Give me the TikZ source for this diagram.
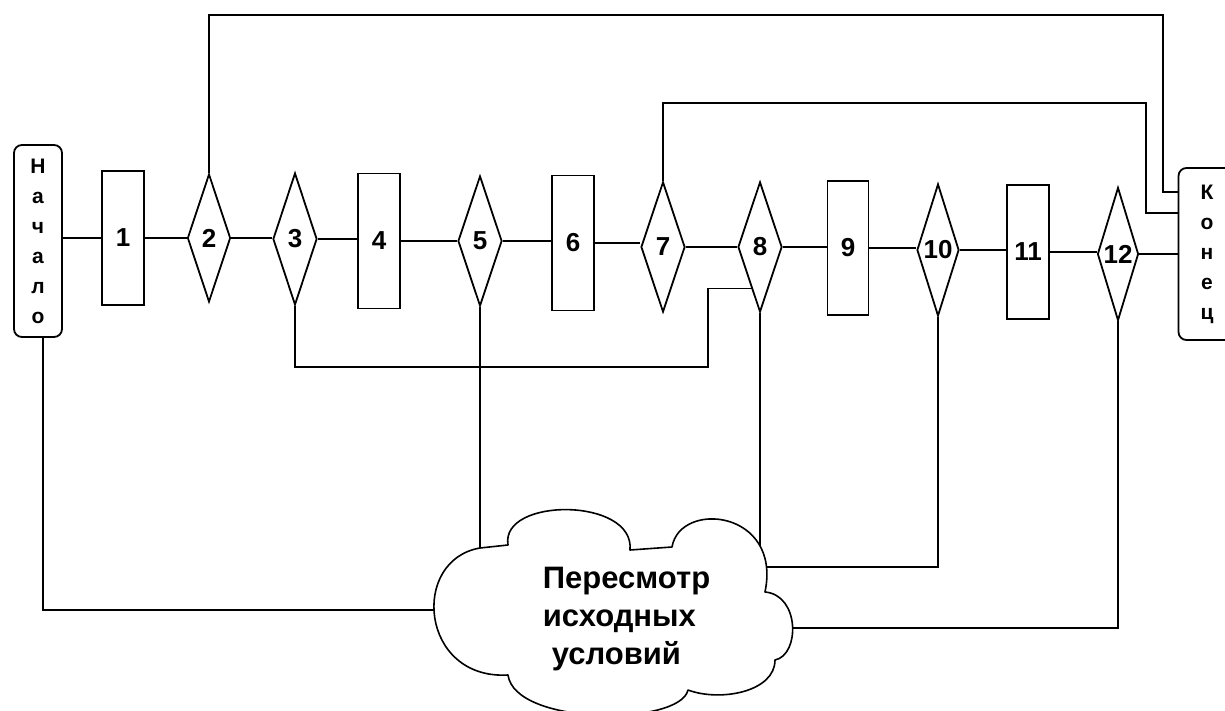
\documentclass[tikz,border=0pt]{standalone}
\usepackage{fontspec}
\setmainfont{Liberation Sans}
\usetikzlibrary{shapes.geometric,calc}
\begin{document}
\begin{tikzpicture}[x=1pt,y=-1pt,line width=1.8pt,line join=miter,
  blk/.style={draw,rectangle,inner sep=0pt,minimum width=42pt,
    font=\bfseries\fontsize{26}{30}\selectfont},
  dec/.style={draw,diamond,aspect=0.33,inner sep=0pt,minimum width=43pt,
    minimum height=130pt,font=\bfseries\fontsize{26}{30}\selectfont},
  term/.style={draw,rectangle,rounded corners=8pt,inner sep=0pt,align=center,
    font=\bfseries\fontsize{21}{30}\selectfont},
  wire/.style={draw,line width=1.8pt},
  cloudline/.style={draw,fill=white,line width=1.6pt,line join=round}]
\path[use as bounding box,clip] (0,0) rectangle (1225,711);

% terminals
\node[term,minimum width=48pt,minimum height=192pt] (N) at (38,241) {Н\\а\\ч\\а\\л\\о};
\node[term,minimum width=57pt,minimum height=172pt] (K) at (1207,254) {К\\о\\н\\е\\ц};

% process blocks and decisions
\node[blk,minimum height=134pt] (B1) at (123,238) {1};
\node[dec,minimum height=128pt] (D2) at (209,238) {2};
\node[dec,minimum width=44pt,minimum height=132pt] (D3) at (295,239) {3};
\node[blk,minimum height=135pt] (B4) at (379,241) {4};
\node[dec,minimum width=44pt] (D5) at (480,241) {5};
\node[blk,minimum height=135pt] (B6) at (573,243) {6};
\node[dec,minimum width=44pt] (D7) at (663,247) {7};
\node[dec,minimum width=44pt] (D8) at (760,247) {8};
\node[blk,minimum width=41pt,minimum height=134pt] (B9) at (848,248) {9};
\node[dec,minimum width=42pt,minimum height=132pt] (D10) at (938,250) {10};
\node[blk,minimum height=134pt] (B11) at (1028,252) {11};
\node[dec,minimum width=41pt,minimum height=133pt] (D12) at (1118,254) {12};

% main chain
\draw[wire] (N.east |- B1) -- (B1.west);
\foreach \a/\b in {B1/D2,D2/D3,D3/B4,B4/D5,D5/B6,B6/D7,D7/D8,D8/B9,B9/D10,D10/B11,B11/D12,D12/K}
  \draw[wire] (\a.east) -- (\a.east -| \b.west);

% return routes over the top
\coordinate (t2) at (1163,15);
\coordinate (t7) at (1146,103);
\coordinate (k2) at ($(K.north west)+(0,25)$);
\coordinate (k7) at ($(K.north west)+(0,46)$);
\draw[wire] (D2.north) |- (t2) |- (k2);
\draw[wire] (D7.north) |- (t7) |- (k7);

% loop from 3 back into 8
\coordinate (b3) at (708,367);
\coordinate (j8) at ($(D8.west)!0.63!(D8.south)$);
\draw[wire] (D3.south) |- (b3) |- (j8);

% routes down to the revision cloud
\coordinate (cN) at (445,610);
\coordinate (c5) at (480,560);
\coordinate (c8) at (760,560);
\coordinate (c10) at (755,567);
\coordinate (c12) at (780,628);
\draw[wire] ([xshift=5pt]N.south) |- (cN);
\draw[wire] (D5.south) -- (c5);
\draw[wire] (D8.south) -- (c8);
\draw[wire] (D10.south) |- (c10);
\draw[wire] (D12.south) |- (c12);

% cloud outline
\path[cloudline] (480,548) -- (508,545)
  .. controls (500,497) and (635,497) .. (630,550)
  -- (672,547)
  .. controls (680,500) and (782,510) .. (765,592)
  .. controls (800,595) and (800,655) .. (775,660)
  .. controls (775,692) and (720,702) .. (688,690)
  .. controls (680,726) and (515,726) .. (508,675)
  .. controls (420,680) and (410,560) .. (480,548) -- cycle;
\node[anchor=north west,inner sep=0pt,align=left,
  font=\bfseries\fontsize{31}{38}\selectfont] (rev) at (542,566)
  {Пересмотр\\исходных\\\hspace*{9pt}условий};
\end{tikzpicture}
\end{document}
